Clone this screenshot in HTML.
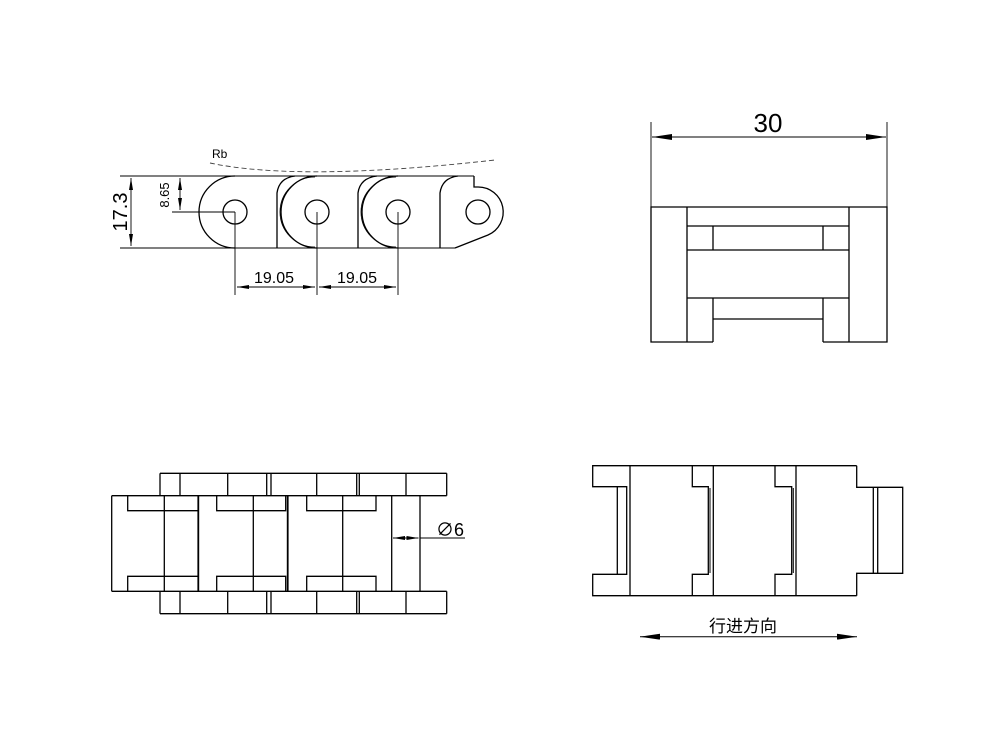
<!DOCTYPE html>
<html><head><meta charset="utf-8"><style>
html,body{margin:0;padding:0;background:#fff;}
svg{display:block;}
text{font-family:"Liberation Sans","Noto Sans CJK SC",sans-serif;fill:#000;}
</style></head><body>
<svg width="1000" height="750" viewBox="0 0 1000 750" xmlns="http://www.w3.org/2000/svg">
<defs>
<marker id="a" viewBox="0 0 20 6" refX="20" refY="3" markerWidth="20" markerHeight="6" markerUnits="userSpaceOnUse" orient="auto-start-reverse"><path d="M0,0 L20,3 L0,6 Z" fill="#000"/></marker>
<marker id="s" viewBox="0 0 12 4" refX="12" refY="2" markerWidth="12" markerHeight="4" markerUnits="userSpaceOnUse" orient="auto-start-reverse"><path d="M0,0 L12,2 L0,4 Z" fill="#000"/></marker>
</defs>
<g fill="none" stroke="#000" stroke-width="1.3">
<!-- TOP LEFT -->
<path d="M210,163 Q300,182 495,160" stroke-dasharray="5,3" stroke-width="0.9" stroke="#444"/>
<line x1="120" y1="176" x2="474" y2="176" stroke-width="0.9"/>
<line x1="120" y1="248" x2="455" y2="248" stroke-width="0.9"/>
<path d="M235,176 A36,36 0 0 0 235,248"/>
<path d="M317,176 A36,36 0 0 0 317,248"/>
<path d="M315,177 A35,35 0 0 0 315,247" stroke-width="0.8"/>
<path d="M398,176 A36,36 0 0 0 398,248"/>
<path d="M396,177 A35,35 0 0 0 396,247" stroke-width="0.8"/>
<path d="M295,176 Q279,178 277,193 L277,248"/>
<path d="M377,176 Q360,178 358,193 L358,248"/>
<path d="M458,176 Q442,178 440,193 L440,248"/>
<path d="M474,176 L474,187 L478,187 A25,25 0 0 1 488,235 L455,248"/>
<circle cx="235" cy="212" r="12"/>
<circle cx="317" cy="212" r="12"/>
<circle cx="398" cy="212" r="12"/>
<circle cx="478" cy="212" r="12"/>
<line x1="131" y1="178" x2="131" y2="246" stroke-width="0.9" marker-start="url(#s)" marker-end="url(#s)"/>
<line x1="180" y1="178" x2="180" y2="210" stroke-width="0.9" marker-start="url(#s)" marker-end="url(#s)"/>
<line x1="172" y1="212" x2="235" y2="212" stroke-width="0.9"/>
<line x1="235" y1="212" x2="235" y2="295" stroke-width="0.9"/>
<line x1="317" y1="212" x2="317" y2="295" stroke-width="0.9"/>
<line x1="398" y1="212" x2="398" y2="295" stroke-width="0.9"/>
<line x1="237" y1="287" x2="315" y2="287" stroke-width="0.9" marker-start="url(#s)" marker-end="url(#s)"/>
<line x1="319" y1="287" x2="396" y2="287" stroke-width="0.9" marker-start="url(#s)" marker-end="url(#s)"/>
<!-- TOP RIGHT -->
<line x1="651" y1="122" x2="651" y2="207" stroke-width="0.9"/>
<line x1="887" y1="122" x2="887" y2="207" stroke-width="0.9"/>
<line x1="652" y1="137" x2="886" y2="137" stroke-width="0.9" marker-start="url(#a)" marker-end="url(#a)"/>
<path d="M713,342 L651,342 L651,207 L887,207 L887,342 L823,342"/>
<line x1="687" y1="207" x2="687" y2="342"/>
<line x1="849" y1="207" x2="849" y2="342"/>
<line x1="687" y1="226" x2="849" y2="226"/>
<line x1="687" y1="250" x2="849" y2="250"/>
<line x1="687" y1="298" x2="849" y2="298"/>
<line x1="713" y1="226" x2="713" y2="250"/>
<line x1="823" y1="226" x2="823" y2="250"/>
<line x1="713" y1="298" x2="713" y2="342"/>
<line x1="823" y1="298" x2="823" y2="342"/>
<line x1="713" y1="319" x2="823" y2="319"/>
<!-- BOTTOM LEFT -->
<g id="half">
<line x1="160" y1="473.3" x2="446.7" y2="473.3"/>
<line x1="111.7" y1="495.7" x2="446.7" y2="495.7"/>
<line x1="160" y1="473.3" x2="160" y2="495.7"/>
<line x1="180" y1="473.3" x2="180" y2="495.7"/>
<line x1="227.7" y1="473.3" x2="227.7" y2="495.7"/>
<line x1="266.7" y1="473.3" x2="266.7" y2="495.7"/>
<line x1="271" y1="473.3" x2="271" y2="495.7"/>
<line x1="316.7" y1="473.3" x2="316.7" y2="495.7"/>
<line x1="356.7" y1="473.3" x2="356.7" y2="495.7"/>
<line x1="359.3" y1="473.3" x2="359.3" y2="495.7"/>
<line x1="406" y1="473.3" x2="406" y2="495.7"/>
<line x1="446.7" y1="473.3" x2="446.7" y2="495.7"/>
<path d="M127.7,495.7 L127.7,510.7 L198.3,510.7"/>
<path d="M216.7,495.7 L216.7,510.7 L285.7,510.7 L285.7,495.7"/>
<path d="M306.7,495.7 L306.7,510.7 L376,510.7 L376,495.7"/>
</g>
<use href="#half" transform="translate(0,1087) scale(1,-1)"/>
<line x1="111.7" y1="495.7" x2="111.7" y2="591.3"/>
<line x1="164.3" y1="495.7" x2="164.3" y2="591.3"/>
<line x1="198.3" y1="495.7" x2="198.3" y2="591.3" stroke-width="1.8"/>
<line x1="253.3" y1="495.7" x2="253.3" y2="591.3"/>
<line x1="287.7" y1="495.7" x2="287.7" y2="591.3" stroke-width="1.8"/>
<line x1="342.7" y1="495.7" x2="342.7" y2="591.3"/>
<line x1="391.7" y1="495.7" x2="391.7" y2="591.3"/>
<line x1="420" y1="495.7" x2="420" y2="591.3"/>
<line x1="393" y1="538" x2="418.5" y2="538" stroke-width="0.9" marker-start="url(#s)" marker-end="url(#s)"/>
<line x1="420" y1="538" x2="465" y2="538" stroke-width="0.9"/>
<!-- BOTTOM RIGHT -->
<path d="M856.7,465.7 L592.7,465.7 L592.7,486.7 L626.7,486.7 L626.7,574.3 L592.7,574.3 L592.7,595.7 L856.7,595.7"/>
<line x1="617.3" y1="486.7" x2="617.3" y2="574.3"/>
<line x1="630" y1="465.7" x2="630" y2="595.7"/>
<path d="M692.3,465.7 L692.3,486.7 L708.3,486.7 L708.3,574.3 L692.3,574.3 L692.3,595.7"/>
<line x1="710" y1="488" x2="710" y2="573" stroke-width="1"/>
<line x1="713.3" y1="465.7" x2="713.3" y2="595.7"/>
<path d="M775,465.7 L775,486.7 L791.7,486.7 L791.7,574.3 L775,574.3 L775,595.7"/>
<line x1="793.3" y1="488" x2="793.3" y2="573" stroke-width="1"/>
<line x1="796" y1="465.7" x2="796" y2="595.7"/>
<path d="M856.7,465.7 L856.7,487.3 L902.7,487.3 L902.7,573.3 L856.7,573.3 L856.7,595.7"/>
<line x1="873.3" y1="487.3" x2="873.3" y2="573.3"/>
<line x1="877.7" y1="487.3" x2="877.7" y2="573.3"/>
<line x1="640" y1="636.7" x2="857" y2="636.7" stroke-width="1" marker-start="url(#a)" marker-end="url(#a)"/>
</g>
<text x="212" y="158" font-size="12">Rb</text>
<text transform="translate(127,212) rotate(-90)" text-anchor="middle" font-size="20">17.3</text>
<text transform="translate(169,195) rotate(-90)" text-anchor="middle" font-size="13">8.65</text>
<text x="274" y="283" text-anchor="middle" font-size="16">19.05</text>
<text x="357" y="283" text-anchor="middle" font-size="16">19.05</text>
<text x="768" y="132" text-anchor="middle" font-size="26">30</text>
<text x="436" y="536" font-size="18">∅6</text>
<text x="743" y="632" text-anchor="middle" font-size="17">行进方向</text>
</svg>
</body></html>
